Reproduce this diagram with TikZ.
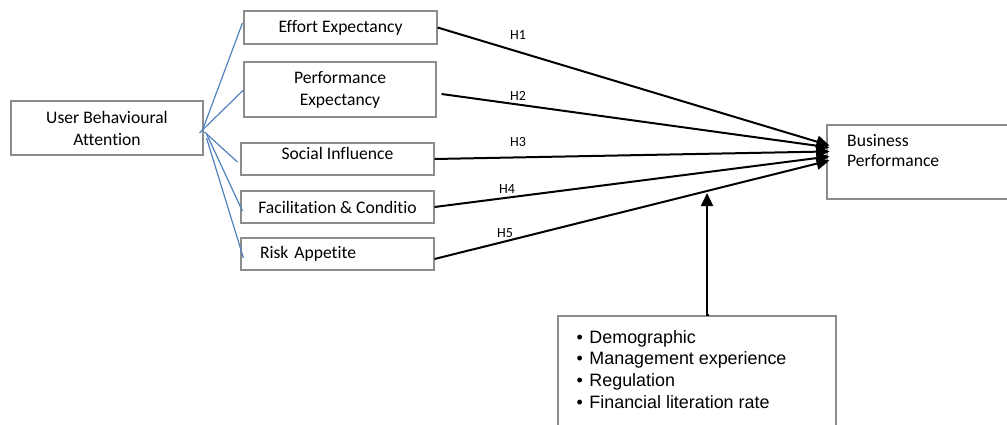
\documentclass[tikz,border=0pt]{standalone}
\usepackage{fontspec}
\setmainfont[Ligatures=NoCommon]{Carlito}
\newfontfamily\arialf{Liberation Sans}
\usetikzlibrary{arrows.meta,calc}
\definecolor{boxgray}{HTML}{8C8C8C}
\definecolor{linkblue}{HTML}{4F81BD}
\begin{document}
\begin{tikzpicture}[x=1pt,y=-1pt,
  box/.style={draw=boxgray,line width=1.1pt,fill=white,inner sep=0pt,
    font=\fontsize{17.6}{22}\selectfont,align=center},
  hyp/.style={line width=2pt,-{Triangle[length=13pt,width=12pt]}},
  link/.style={draw=linkblue,line width=1.2pt},
  hlab/.style={font=\fontsize{14}{15}\selectfont,inner sep=0pt}]
\useasboundingbox (0,0) rectangle (1007,425);
\clip (0,0) rectangle (1007,425);
% boxes
\node[box,minimum width=192pt,minimum height=54pt] (uba) at (107,128) {User Behavioural\\Attention};
\node[box,minimum width=193pt,minimum height=33pt] (ee) at (340.5,27.5) {Effort Expectancy};
\node[box,minimum width=192pt,minimum height=55pt] (pe) at (340,89.5) {Performance\\Expectancy};
\node[box,minimum width=193pt,minimum height=32pt,
  label={[font=\fontsize{17.6}{22}\selectfont,yshift=6pt]center:Social Influence}] (si) at (337.5,159) {};
\node[box,minimum width=193pt,minimum height=32pt] (fc) at (337.5,207) {Facilitation \& Conditio};
\node[box,minimum width=193pt,minimum height=32pt,text width=155pt,align=left] (ra) at (337.5,254) {Risk Appetite};
\node[box,minimum width=200pt,minimum height=74pt] (bp) at (927,162) {};
\node[font=\fontsize{17.6}{19.5}\selectfont,align=left,anchor=west,inner sep=0pt] (bptxt) at (847,150.5) {Business\\Performance};
\node[box,minimum width=278pt,minimum height=130pt] (mod) at (697,381) {};
\node[font=\arialf\fontsize{17.9}{21.7}\selectfont,align=left,anchor=north west,inner sep=0pt] (modtxt) at (576.5,330)
  {•\hspace{6.5pt}Demographic\\•\hspace{6.5pt}Management experience\\•\hspace{6.5pt}Regulation\\•\hspace{6.5pt}Financial literation rate};
% blue links
\draw[link] ($(uba.east)+(-4,5)$) -- ($(uba.east)+(-1,2)$) -- ($(ee.west)+(-1,-4.5)$);
\draw[link] ($(uba.east)+(-1,2)$) -- ($(pe.west)+(0,0.5)$);
\draw[link] ($(uba.east)+(1,4)$) -- ($(si.west)+(-3,3)$);
\draw[link] ($(uba.east)+(3,6)$) -- ($(fc.west)+(2,4)$);
\draw[link] ($(uba.east)+(3,10)$) -- ($(ra.west)+(3,4)$);
% hypothesis arrows
\coordinate (t1) at ($(bp.north west)+(3,21)$);
\coordinate (t2) at ($(bp.north west)+(3,23)$);
\coordinate (t3) at ($(bp.north west)+(3,27)$);
\coordinate (t4) at ($(bp.north west)+(3,32)$);
\coordinate (t5) at ($(bp.north west)+(3,36)$);
\draw[hyp] (ee.east) -- (t1);
\draw[hyp] ($(pe.east)+(5,4.5)$) -- (t2);
\draw[hyp] (si.east) -- (t3);
\draw[hyp] (fc.east) -- (t4);
\draw[hyp] ($(ra.east)+(0,5)$) coordinate (s5) -- (t5);
\node[hlab] (h1) at (518,35) {H1};
\node[hlab] (h2) at (518,96) {H2};
\node[hlab] (h3) at (518,142) {H3};
\node[hlab] (h4) at (507,189) {H4};
\node[hlab] (h5) at (505,233) {H5};
% moderator arrow
\coordinate (mt) at ($(s5)!0.69!(t5)$);
\draw[hyp] ($(mod.north)+(12,0)$) -- (mod.north -| mt) -- ($(mt)+(0,2)$);
\end{tikzpicture}
\end{document}
